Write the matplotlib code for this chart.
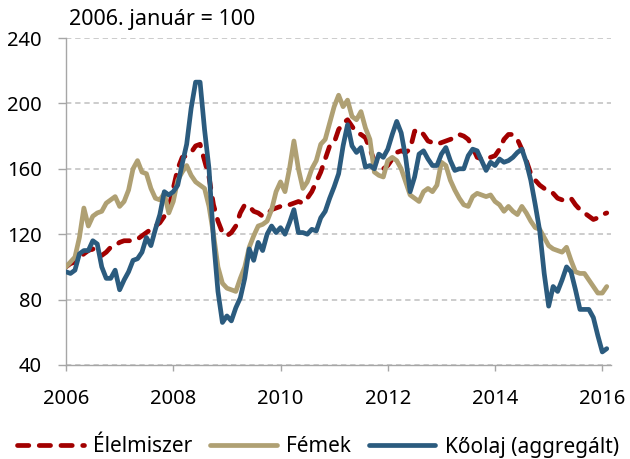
import matplotlib
matplotlib.use("Agg")
import matplotlib.pyplot as plt
import numpy as np

# Monthly data, 2006 Jan .. 2016 Feb (index, 2006 Jan = 100)
start_year = 2006
food = [100, 102, 103, 105, 108, 110, 111, 109, 107, 109, 112, 113,
        115, 116, 116, 116, 117, 119, 121, 123, 125, 127, 131, 136,
        148, 160, 167, 168, 170, 174, 175, 165, 155, 138, 128, 121,
        119, 121, 125, 133, 138, 137, 134, 133, 131, 132, 135, 136,
        137, 137, 138, 139, 140, 139, 142, 146, 152, 158, 166, 174,
        176, 184, 188, 190, 186, 182, 181, 179, 172, 165, 162, 160,
        162, 166, 170, 171, 170, 172, 183, 184, 181, 177, 176, 175,
        176, 177, 178, 179, 181, 180, 178, 173, 167, 166, 167, 167,
        168, 172, 178, 181, 181, 178, 172, 165, 157, 153, 150, 148,
        147, 145, 142, 141, 142, 142, 138, 135, 133, 131, 129, 130,
        132, 133]
metals = [100, 103, 106, 118, 136, 125, 131, 133, 134, 139, 141, 143,
          137, 140, 147, 160, 165, 158, 157, 148, 142, 141, 145, 133,
          140, 153, 158, 162, 156, 152, 150, 148, 137, 120, 100, 90,
          87, 86, 85, 93, 100, 112, 119, 125, 126, 128, 135, 146,
          152, 146, 160, 177, 160, 148, 152, 160, 165, 175, 178, 188,
          198, 205, 198, 202, 192, 190, 195, 185, 178, 158, 156, 155,
          165, 167, 165, 160, 152, 144, 142, 140, 146, 148, 146, 150,
          164, 162, 153, 147, 142, 138, 137, 143, 145, 144, 143, 144,
          140, 138, 134, 137, 134, 132, 137, 133, 128, 124, 123, 118,
          113, 111, 110, 109, 112, 104, 97, 96, 96, 92, 88, 84,
          84, 88]
oil = [97, 96, 98, 108, 110, 110, 116, 114, 100, 93, 93, 98,
       86, 92, 97, 104, 105, 109, 118, 113, 123, 132, 146, 144,
       146, 150, 163, 175, 197, 213, 213, 184, 160, 117, 85, 66,
       70, 67, 75, 81, 93, 111, 104, 115, 110, 120, 125, 121,
       124, 120, 127, 135, 121, 121, 120, 123, 122, 130, 134, 142,
       149, 157, 174, 187, 174, 170, 173, 161, 162, 160, 169, 167,
       172, 181, 189, 182, 167, 146, 155, 169, 171, 166, 162, 162,
       169, 173, 165, 159, 160, 160, 168, 172, 171, 165, 159, 164,
       162, 166, 164, 165, 167, 170, 172, 164, 153, 138, 122, 96,
       76, 88, 85, 92, 100, 97, 86, 74, 74, 74, 69, 58,
       48, 50]
series_names = ["Élelmiszer", "Fémek", "Kőolaj (aggregált)"]
y_ticks = [40, 80, 120, 160, 200, 240]
x_ticks = [2006, 2008, 2010, 2012, 2014, 2016]
subtitle = "2006. január = 100"

plt.rcParams['font.family'] = ['Noto Sans', 'DejaVu Sans']

W, H = 630, 459
fig = plt.figure(figsize=(W / 100, H / 100), dpi=100)
ax = fig.add_axes([66 / W, 1 - 365 / H, (610.5 - 66) / W, (365 - 38) / H])

x = start_year + np.arange(len(food)) / 12.0

c_food = "#A20000"
c_met = "#AFA073"
c_oil = "#2B5B7E"
lw = 3.4

ax.plot(x, food, color=c_food, lw=lw, dashes=(2.4, 2.2), dash_capstyle='round',
        solid_capstyle='round', label=series_names[0], zorder=3)
ax.plot(x, metals, color=c_met, lw=lw, solid_capstyle='round', solid_joinstyle='round',
        label=series_names[1], zorder=4)
ax.plot(x, oil, color=c_oil, lw=lw, solid_capstyle='round', solid_joinstyle='round',
        label=series_names[2], zorder=5)

ax.set_xlim(2006, 2006 + (610.5 - 66.3) / (602.3 - 66.3) * 10)
ax.set_ylim(40, 240)
ax.set_yticks(y_ticks)
ax.set_xticks(x_ticks)
ax.set_xticklabels([str(t) for t in x_ticks])
ax.set_yticklabels([str(t) for t in y_ticks])

ax.grid(axis='y', color="#BFBFBF", lw=1.1, dashes=(3.5, 2.5))
ax.set_axisbelow(True)
for s in ['top', 'right']:
    ax.spines[s].set_visible(False)
for s in ['left', 'bottom']:
    ax.spines[s].set_color("#A6A6A6")
    ax.spines[s].set_linewidth(1.0)
ax.tick_params(axis='both', colors="#A6A6A6", labelcolor="black", labelsize=14.5,
               width=1.0, direction='out')
ax.tick_params(axis='y', length=6, pad=11.5)
ax.tick_params(axis='x', length=4, pad=13)

fig.text(69 / W, 1 - 19 / H, subtitle, fontsize=15.5, va='center', ha='left')

leg = fig.legend(loc='center', bbox_to_anchor=(318 / W, 1 - 447 / H), ncol=3,
                 frameon=False, fontsize=15, handlelength=3.2, handletextpad=0.45,
                 columnspacing=0.85, borderaxespad=0)

fig.savefig("out.png", dpi=100)
